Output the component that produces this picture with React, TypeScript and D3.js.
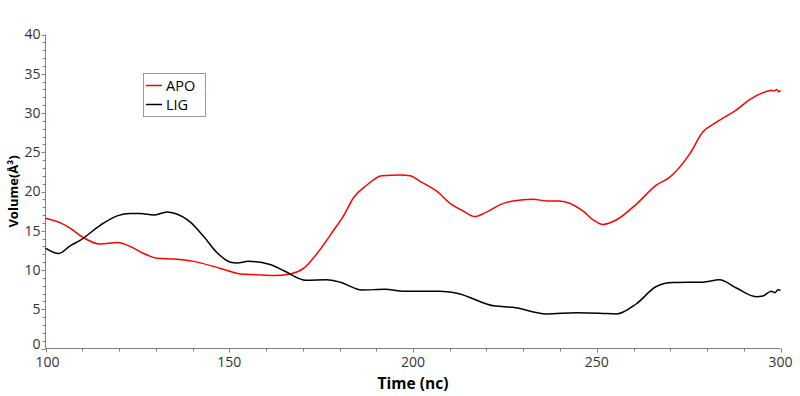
import React from "react";
import * as d3 from "d3";

const apoTime = [100, 104.1, 106.8, 110.4, 114.9, 119.5, 123.1, 126.7, 130.4, 134.9, 140.3, 147.6, 153.0, 157.5, 162.0, 166.6, 170.2, 174.7, 178.3, 181.1, 183.8, 187.4, 191.5, 196.5, 199.2, 201.9, 206.3, 210.1, 213.7, 216.8, 220.1, 223.6, 227.2, 232.7, 236.4, 239.9, 246.3, 249.0, 251.7, 255.4, 260.8, 266.2, 269.8, 275.3, 278.9, 282.5, 288.0, 291.6, 296.6, 297.5, 298.3, 299.0, 299.5, 300];
const apoVolume = [16.6, 16.0, 15.3, 14.1, 13.3, 13.5, 13.0, 12.1, 11.5, 11.4, 11.1, 10.2, 9.5, 9.4, 9.3, 9.5, 10.2, 12.6, 15.0, 16.9, 19.2, 20.8, 22.0, 22.1, 22.0, 21.3, 20.1, 18.5, 17.5, 16.8, 17.4, 18.3, 18.8, 19.0, 18.8, 18.8, 17.5, 16.4, 15.8, 16.4, 18.4, 20.8, 21.8, 24.8, 27.6, 28.8, 30.4, 31.7, 32.8, 32.9, 32.8, 33.0, 32.7, 32.9];

const ligTime = [100, 103.6, 106.8, 109.5, 114.9, 119.5, 123.1, 125.8, 129.4, 133.1, 135.3, 139.4, 143.0, 146.7, 150.3, 152.1, 155.2, 161.1, 164.9, 170.9, 176.5, 180.2, 186.1, 192.4, 197.4, 207.3, 211.9, 222.3, 227.2, 236.3, 244.5, 250.8, 255.4, 260.8, 266.2, 270.7, 278.9, 283.4, 288.0, 293.4, 295.2, 297.5, 298.5, 299.3, 300];
const ligVolume = [12.8, 12.1, 13.1, 13.8, 15.7, 16.9, 17.2, 17.2, 17.0, 17.4, 17.2, 16.1, 14.3, 12.2, 11.0, 10.9, 11.1, 10.7, 9.9, 8.7, 8.75, 8.45, 7.45, 7.55, 7.3, 7.3, 7.05, 5.4, 5.25, 4.4, 4.55, 4.5, 4.4, 5.7, 7.9, 8.4, 8.45, 8.75, 7.7, 6.6, 6.7, 7.3, 7.1, 7.5, 7.4];

const xTicks = [100, 150, 200, 250, 300];
const yTicks = [0, 5, 10, 15, 20, 25, 30, 35, 40];
const seriesNames = ["APO", "LIG"];
const seriesColors = ["#ff0000", "#000000"];

export default function App() {
  const W = 800, H = 396;
  const x = d3.scaleLinear().domain([100, 300]).range([45.5, 780.5]);
  const y = d3.scaleLinear().domain([0, 40]).range([348.5, 34.5]);
  const line = d3
    .line<[number, number]>()
    .x((d) => x(d[0]))
    .y((d) => y(d[1]))
    .curve(d3.curveMonotoneX);
  const apo: [number, number][] = apoTime.map((t, i) => [t, apoVolume[i]]);
  const lig: [number, number][] = ligTime.map((t, i) => [t, ligVolume[i]]);
  const xMinor = d3.range(100, 301, 10);
  const yMinor = d3.range(0, 41, 1);
  const axisColor = "#808080";
  const font = "'Open Sans', 'DejaVu Sans', sans-serif";
  return (
    <svg width={W} height={H} style={{ position: "absolute", left: 0, top: 0, background: "#fff" }}>
      <rect x={0} y={0} width={W} height={H} fill="#fff" />
      {/* y axis */}
      <line x1={x(100)} x2={x(100)} y1={y(0)} y2={y(40)} stroke={axisColor} strokeWidth={1} />
      {yMinor.map((v) => (
        <line key={"ym" + v} x1={x(100) - (v % 5 === 0 ? 4 : 3)} x2={x(100)} y1={Math.round(y(v)) + 0.5} y2={Math.round(y(v)) + 0.5} stroke={axisColor} strokeWidth={1} />
      ))}
      {yTicks.map((v) => (
        <text key={"yl" + v} x={x(100) - 5} y={y(v) - (v === 0 ? 4 : 0)} dy="0.35em" textAnchor="end" fontSize={14} fill="#333" fontFamily={font}>
          {v}
        </text>
      ))}
      {/* x axis */}
      <line x1={x(100)} x2={x(300)} y1={y(0)} y2={y(0)} stroke={axisColor} strokeWidth={1} />
      {xMinor.map((v) => (
        <line key={"xm" + v} x1={Math.round(x(v)) + 0.5} x2={Math.round(x(v)) + 0.5} y1={y(0)} y2={y(0) + (v % 50 === 0 ? 4 : 3)} stroke={axisColor} strokeWidth={1} />
      ))}
      {xTicks.map((v) => (
        <text key={"xl" + v} x={x(v) + (v === 100 ? 2 : 0)} y={y(0) + 18.5} textAnchor="middle" fontSize={14} fill="#333" fontFamily={font}>
          {v}
        </text>
      ))}
      <text x={(x(100) + x(300)) / 2} y={389} textAnchor="middle" fontSize={15.5} fontWeight="bold" fill="#000" fontFamily={font}>
        Time (nc)
      </text>
      <text transform={`translate(18, ${y(20)}) rotate(-90)`} textAnchor="middle" fontSize={13} fontWeight="bold" fill="#000" fontFamily={font}>
        Volume(Å³)
      </text>
      {/* lines */}
      <path d={line(apo) || ""} fill="none" stroke={seriesColors[0]} strokeWidth={1.5} />
      <path d={line(lig) || ""} fill="none" stroke={seriesColors[1]} strokeWidth={1.5} />
      {/* legend */}
      <rect x={143.5} y={73.5} width={62} height={43} fill="#fff" stroke="#999" strokeWidth={1} />
      {seriesNames.map((n, i) => (
        <g key={n}>
          <line x1={146} x2={162} y1={85.5 + i * 19} y2={85.5 + i * 19} stroke={seriesColors[i]} strokeWidth={1.5} />
          <text x={166} y={85.5 + i * 19} dy="0.35em" fontSize={14.5} fill="#000" fontFamily={font}>
            {n}
          </text>
        </g>
      ))}
    </svg>
  );
}
